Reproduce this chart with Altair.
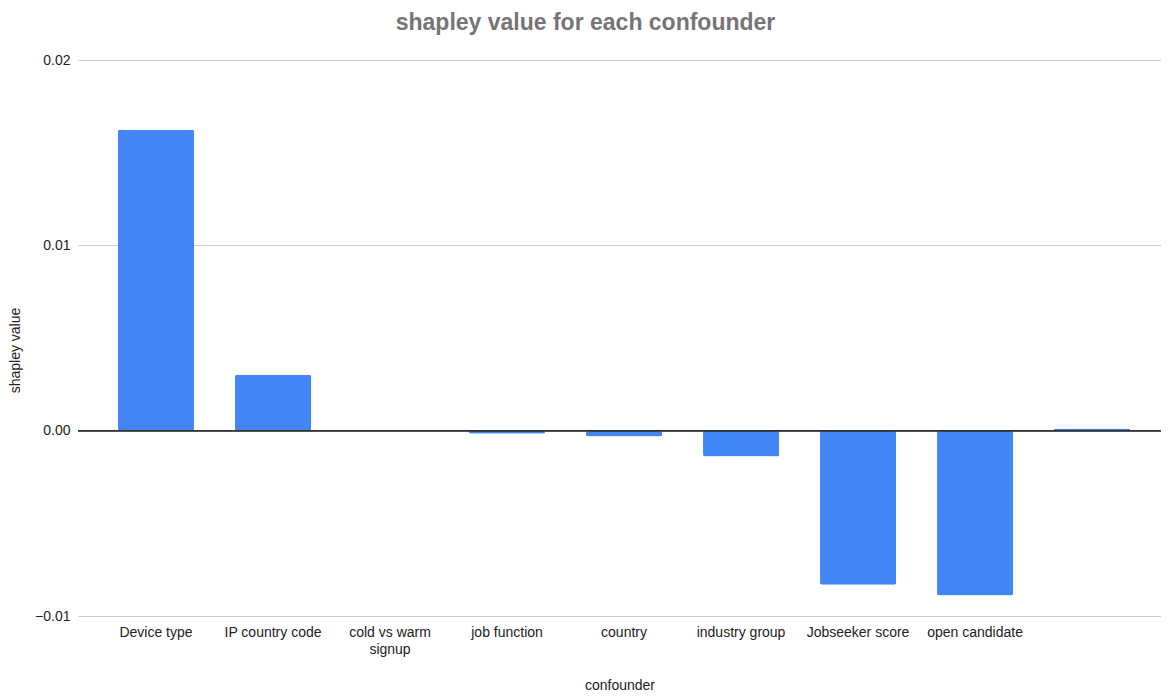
import altair as alt
import pandas as pd

categories = ["Device type", "IP country code", "cold vs warm signup", "job function",
              "country", "industry group", "Jobseeker score", "open candidate", " "]
values = [0.01623, 0.00302, 0.0, -0.00016, -0.00032, -0.00140, -0.00831, -0.00890, 0.00012]

df = pd.DataFrame({"confounder": categories, "shapley value": values})

FONT = "Liberation Sans"

label_expr = "datum.value == 'cold vs warm signup' ? ['cold vs warm', 'signup'] : datum.value"

bars = alt.Chart().mark_bar(color="#4285F4", cornerRadius=2).encode(
    x=alt.X("confounder:N", sort=categories,
            scale=alt.Scale(paddingInner=0.35, paddingOuter=0.303, align=0.564),
            axis=alt.Axis(title="confounder", labelAngle=0, labelExpr=label_expr,
                          domain=False, ticks=False, labelPadding=9,
                          labelFontSize=14, labelColor="#222222", labelFont=FONT,
                          labelLineHeight=17,
                          titleFont=FONT, titleFontSize=14, titleFontWeight="normal",
                          titleColor="#222222", titlePadding=22)),
    y=alt.Y("shapley value:Q",
            scale=alt.Scale(domain=[-0.01, 0.02], nice=False),
            axis=alt.Axis(title="shapley value", values=[-0.01, 0.0, 0.01, 0.02],
                          format=".2f", domain=False, ticks=False, labelPadding=8,
                          gridColor="#cccccc", labelFontSize=14, labelColor="#222222",
                          labelFont=FONT, titleFont=FONT, titleFontSize=14,
                          titleFontWeight="normal", titleColor="#222222",
                          titlePadding=12, titleY=290)),
)

zero = alt.Chart().mark_rule(color="#333333", strokeWidth=1).encode(y=alt.datum(0))

chart = alt.layer(bars, zero, data=df).properties(
    width=1083, height=556,
    autosize=alt.AutoSizeParams(type="none"),
    padding={"left": 70, "top": 52, "right": 0, "bottom": 80},
    title=alt.TitleParams("shapley value for each confounder", font=FONT, fontSize=23,
                          fontWeight="bold", color="#757575", anchor="middle",
                          frame="group", dx=-34, offset=18),
).configure_view(stroke=None)

chart.save("out.html", embed_options={"renderer": "svg", "actions": False})
